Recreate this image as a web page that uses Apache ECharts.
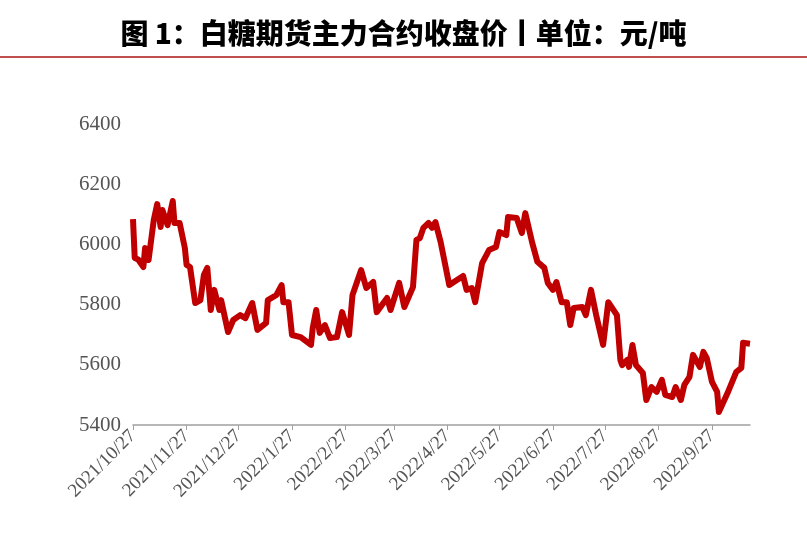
<!DOCTYPE html>
<html><head><meta charset="utf-8">
<script src="https://cdn.jsdelivr.net/npm/echarts@6/dist/echarts.min.js"></script>
<style>body{margin:0;background:#fff}#chart{width:807px;height:550px}</style>
</head><body><div id="chart"></div>
<script>
// days counted from 2021/10/27
var startDate = '2021/10/27';
var totalDays = 358;
var dayIdx = [0,1,3,6,7,9,12,14,16,17,20,23,24,27,30,31,33,36,39,41,43,45,47,50,51,55,58,62,65,69,72,77,78,83,86,87,90,92,97,103,104,106,108,111,114,118,121,125,127,132,135,139,141,147,149,154,157,162,164,166,168,171,173,175,178,183,191,193,196,198,202,206,210,212,216,217,222,225,227,231,234,238,240,243,245,248,251,253,255,260,262,265,268,272,275,280,282,283,286,287,289,291,295,297,300,303,306,308,312,314,317,319,322,324,328,330,332,335,338,339,344,349,352,353,357];
var prices = [6084,5955,5950,5925,5988,5948,6081,6134,6058,6114,6064,6144,6071,6071,5988,5932,5925,5805,5815,5898,5922,5782,5849,5782,5815,5709,5749,5765,5755,5805,5716,5739,5815,5832,5865,5808,5808,5699,5692,5666,5722,5782,5706,5732,5689,5692,5775,5699,5832,5915,5855,5875,5775,5822,5782,5872,5792,5858,6015,6021,6055,6071,6055,6074,6008,5865,5895,5849,5855,5808,5938,5981,5991,6041,6031,6091,6088,6038,6104,6005,5942,5922,5872,5849,5875,5808,5808,5732,5789,5792,5765,5849,5765,5666,5808,5765,5616,5599,5616,5593,5666,5599,5573,5483,5526,5510,5550,5500,5493,5526,5483,5533,5560,5633,5593,5643,5622,5543,5510,5443,5506,5576,5590,5673,5670];
var yTicks = [5400, 5600, 5800, 6000, 6200, 6400];

var days = [];
var d0 = new Date(startDate);
for (var i = 0; i < totalDays; i++) {
  var d = new Date(d0.getTime() + i * 86400000);
  days.push(d.getFullYear() + '/' + (d.getMonth() + 1) + '/' + d.getDate());
}
var series = dayIdx.map(function (k, i) { return [k, prices[i]]; });
function isMark(idx, val) { return /\/27$/.test(val); }

var myChart = echarts.init(document.getElementById('chart'));
var option = {
  animation: false,
  title: {
    text: '图 1：白糖期货主力合约收盘价丨单位：元/吨',
    left: 'center', top: 14,
    textStyle: { fontSize: 28, fontWeight: 900, color: '#000', fontFamily: 'Noto Sans CJK SC' }
  },
  graphic: [{
    type: 'rect', shape: { x: 0, y: 56, width: 807, height: 2 },
    style: { fill: '#c0504d' }
  }],
  grid: { left: 133, right: 57, top: 124, bottom: 125 },
  xAxis: {
    type: 'category', data: days, boundaryGap: false,
    axisLine: { lineStyle: { color: '#a0a0a0', width: 1.5 } },
    axisTick: { interval: isMark, length: 5, lineStyle: { color: '#a0a0a0' } },
    axisLabel: { interval: isMark, rotate: 45, fontSize: 19, color: '#555', fontFamily: 'Liberation Serif', margin: 8 }
  },
  yAxis: {
    type: 'value', min: yTicks[0], max: yTicks[yTicks.length - 1], interval: 200,
    axisLine: { show: false }, axisTick: { show: false }, splitLine: { show: false },
    axisLabel: { fontSize: 21, color: '#555', fontFamily: 'Liberation Serif', margin: 12, formatter: function (v) { return String(v); } }
  },
  series: [{
    type: 'line', data: series, showSymbol: false,
    lineStyle: { color: '#c00000', width: 6, join: 'round' }
  }]
};
myChart.setOption(option);
</script></body></html>
